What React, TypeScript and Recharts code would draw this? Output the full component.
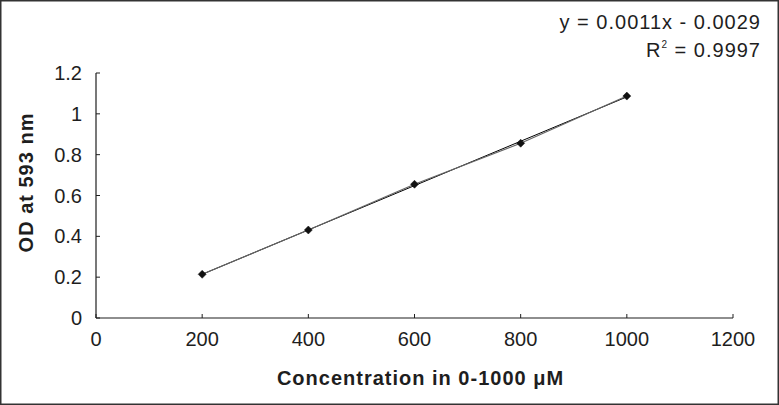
import React from 'react';
import { ScatterChart, Scatter, XAxis, YAxis } from 'recharts';

// Calibration data
const concentrations = [200, 400, 600, 800, 1000];
const odValues = [0.214, 0.431, 0.655, 0.856, 1.087];
// Linear trendline end points (y = 0.0011x - 0.0029 as drawn)
const trendConcentrations = [200, 1000];
const trendOd = [0.214, 1.083];
const xTicks = [0, 200, 400, 600, 800, 1000, 1200];
const yTicks = [0, 0.2, 0.4, 0.6, 0.8, 1, 1.2];
const xTitle = 'Concentration in 0-1000 μM';
const yTitle = 'OD at 593 nm';
const equationText = 'y = 0.0011x - 0.0029';
const r2Value = '0.9997';

const points = concentrations.map((x, i) => ({ x, y: odValues[i] }));
const trend = trendConcentrations.map((x, i) => ({ x, y: trendOd[i] }));

const FONT = '"Liberation Sans", Arial, Helvetica, sans-serif';
const INK = '#1e1e1e';

const X_MARGIN = 13;
const Y_MARGIN = 13;

const XTick = (props: any) => {
  const { x, y, payload } = props;
  return (
    <g>
      <line x1={x} x2={x} y1={y - X_MARGIN} y2={y - X_MARGIN - 4} stroke={INK} strokeWidth={1} />
      <text x={x} y={y} dy={14.5} textAnchor="middle" fontSize={20} fontFamily={FONT} fill={INK}>
        {payload.value}
      </text>
    </g>
  );
};

const YTick = (props: any) => {
  const { x, y, payload } = props;
  return (
    <g>
      <line x1={x + Y_MARGIN} x2={x + Y_MARGIN + 4} y1={y} y2={y} stroke={INK} strokeWidth={1} />
      <text x={x - 1} y={y} dy={7} textAnchor="end" fontSize={20} fontFamily={FONT} fill={INK}>
        {payload.value}
      </text>
    </g>
  );
};

const XTitle = (props: any) => {
  const vb = props.viewBox || { x: 96, y: 318, width: 637, height: 70 };
  return (
    <text
      x={vb.x + vb.width / 2 + 6}
      y={vb.y + 67}
      textAnchor="middle"
      fontSize={20}
      fontWeight="bold"
      letterSpacing={1}
      fontFamily={FONT}
      fill={INK}
    >
      {xTitle}
    </text>
  );
};

const YTitle = (props: any) => {
  const vb = props.viewBox || { x: 0, y: 73, width: 96, height: 245 };
  const cx = vb.x + 33;
  const cy = vb.y + vb.height / 2 - 13;
  return (
    <text
      x={cx}
      y={cy}
      transform={`rotate(-90, ${cx}, ${cy})`}
      textAnchor="middle"
      fontSize={20}
      fontWeight="bold"
      letterSpacing={1}
      fontFamily={FONT}
      fill={INK}
    >
      {yTitle}
    </text>
  );
};

const Diamond = (props: any) => {
  const { cx, cy } = props;
  if (cx == null || cy == null) return <g />;
  const r = 4;
  return (
    <polygon
      points={`${cx},${cy - r} ${cx + r},${cy} ${cx},${cy + r} ${cx - r},${cy}`}
      fill="#111"
      stroke="#111"
      strokeWidth={0.5}
    />
  );
};

const NoShape = () => <g />;

export default function App() {
  return (
    <div
      style={{
        position: 'absolute',
        left: 0,
        top: 0,
        width: 779,
        height: 405,
        background: '#fff',
        fontFamily: FONT,
      }}
    >
      <ScatterChart
        width={779}
        height={405}
        margin={{ top: 73, right: 46, bottom: 17, left: 0 }}
      >
        <XAxis
          type="number"
          dataKey="x"
          domain={[0, 1200]}
          ticks={xTicks}
          height={70}
          tickSize={0}
          tickMargin={X_MARGIN}
          tick={<XTick />}
          axisLine={{ stroke: INK, strokeWidth: 1.2 }}
          tickLine={false}
          label={<XTitle />}
        />
        <YAxis
          type="number"
          dataKey="y"
          domain={[0, 1.2]}
          ticks={yTicks}
          width={96}
          tickSize={0}
          tickMargin={Y_MARGIN}
          tick={<YTick />}
          axisLine={{ stroke: INK, strokeWidth: 1.2 }}
          tickLine={false}
          label={<YTitle />}
        />
        <Scatter
          data={trend}
          line={{ stroke: '#000', strokeWidth: 1 }}
          lineType="joint"
          shape={<NoShape />}
          isAnimationActive={false}
        />
        <Scatter
          data={points}
          line={{ stroke: '#666', strokeWidth: 1.2 }}
          lineType="joint"
          shape={<Diamond />}
          isAnimationActive={false}
        />
      </ScatterChart>
      <svg
        width={779}
        height={405}
        style={{ position: 'absolute', left: 0, top: 0, pointerEvents: 'none' }}
      >
        <text x={761} y={29} textAnchor="end" fontSize={20} letterSpacing={1} fontFamily={FONT} fill={INK}>
          {equationText}
        </text>
        <text x={761} y={57} textAnchor="end" fontSize={20} letterSpacing={1} fontFamily={FONT} fill={INK}>
          <tspan>R</tspan>
          <tspan fontSize={10} dy={-9}>2</tspan>
          <tspan dy={9}>{` = ${r2Value}`}</tspan>
        </text>
        <rect x={0.75} y={0.75} width={777.5} height={403.5} fill="none" stroke="#333" strokeWidth={1.5} />
      </svg>
    </div>
  );
}
